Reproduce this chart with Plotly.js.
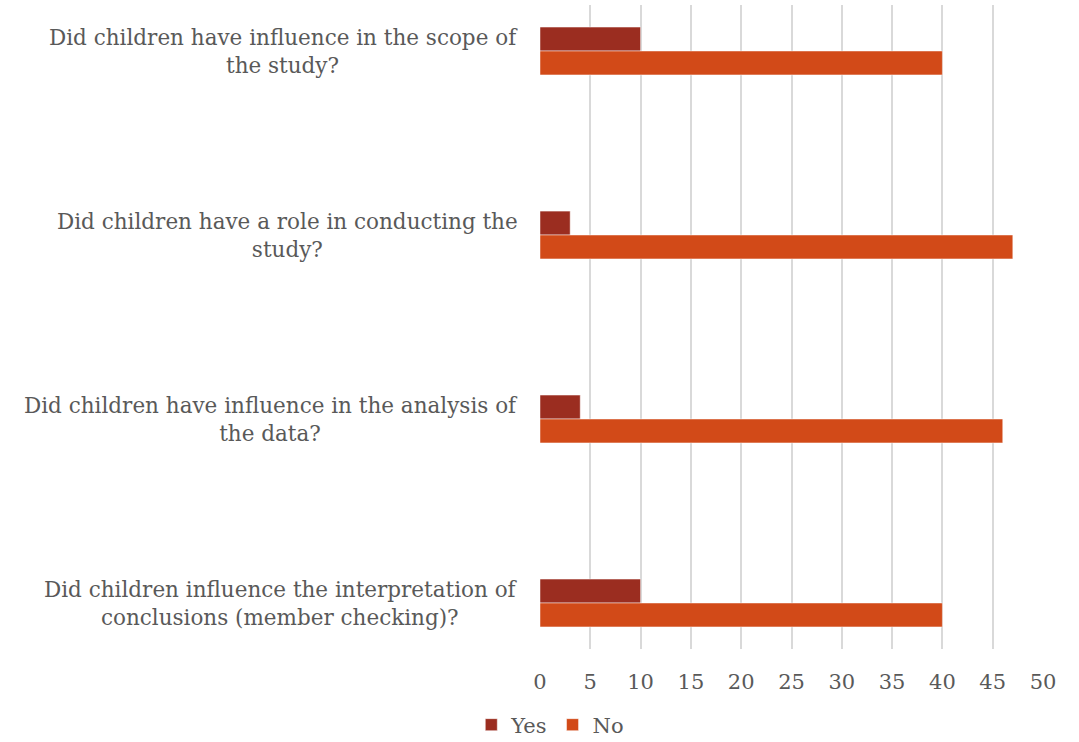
<!DOCTYPE html>
<html>
<head>
<meta charset="utf-8">
<script src="https://cdn.plot.ly/plotly-3.0.1.min.js"></script>
<style>html,body{margin:0;padding:0;background:#fff;}#chart{width:1079px;height:742px;}</style>
</head>
<body>
<div id="chart"></div>
<script>
const categories = [
  "Did children have influence in the scope of<br>the study?",
  "Did children have a role in conducting the<br>study?",
  "Did children have influence in the analysis of<br>the data?",
  "Did children influence the interpretation of<br>conclusions (member checking)?"
];
const yesValues = [10, 3, 4, 10];
const noValues = [40, 47, 46, 40];
const seriesNames = ["Yes", "No"];
const xTicks = [0, 5, 10, 15, 20, 25, 30, 35, 40, 45, 50];

const FONT = "DejaVu Serif, Liberation Serif, serif";
const TXT = "#595959";

const traces = [
  {type: "bar", orientation: "h", name: seriesNames[0], y: categories, x: yesValues,
   marker: {color: "#9B2D20", line: {color: "rgba(255,255,255,0.6)", width: 0.8}}, hoverinfo: "x"},
  {type: "bar", orientation: "h", name: seriesNames[1], y: categories, x: noValues,
   marker: {color: "#D24A18", line: {color: "rgba(255,255,255,0.6)", width: 0.8}}, hoverinfo: "x"}
];

const annotations = categories.map(c => ({
  xref: "paper", yref: "y", x: 0, y: c, xanchor: "right", yanchor: "middle",
  xshift: -20, align: "center", showarrow: false, text: c,
  font: {family: FONT, size: 21.5, color: TXT}
}));

const layout = {
  width: 1079, height: 742,
  margin: {l: 540, r: 36, t: 5, b: 93, autoexpand: false},
  paper_bgcolor: "#fff", plot_bgcolor: "#fff",
  barmode: "group", bargap: 0.74, bargroupgap: 0,
  font: {family: FONT, color: TXT},
  xaxis: {range: [0, 50], tickvals: xTicks, ticktext: xTicks.map(String),
          showgrid: true, gridcolor: "#D9D9D9", gridwidth: 2, zeroline: false,
          showline: false, ticks: "", ticklabelstandoff: 18,
          tickfont: {family: FONT, size: 21, color: TXT}, fixedrange: true},
  yaxis: {type: "category", categoryorder: "array", categoryarray: categories,
          range: [3.25, -0.25], showticklabels: false, showgrid: false, zeroline: false,
          showline: false, ticks: "", fixedrange: true},
  showlegend: true,
  legend: {orientation: "h", xref: "container", yref: "paper", x: 0.51, xanchor: "center",
           y: -0.118, yanchor: "middle", traceorder: "normal",
           font: {family: FONT, size: 21, color: TXT}, itemwidth: 30},
  annotations: annotations
};

Plotly.newPlot("chart", traces, layout, {displayModeBar: false, staticPlot: true});
</script>
</body>
</html>
